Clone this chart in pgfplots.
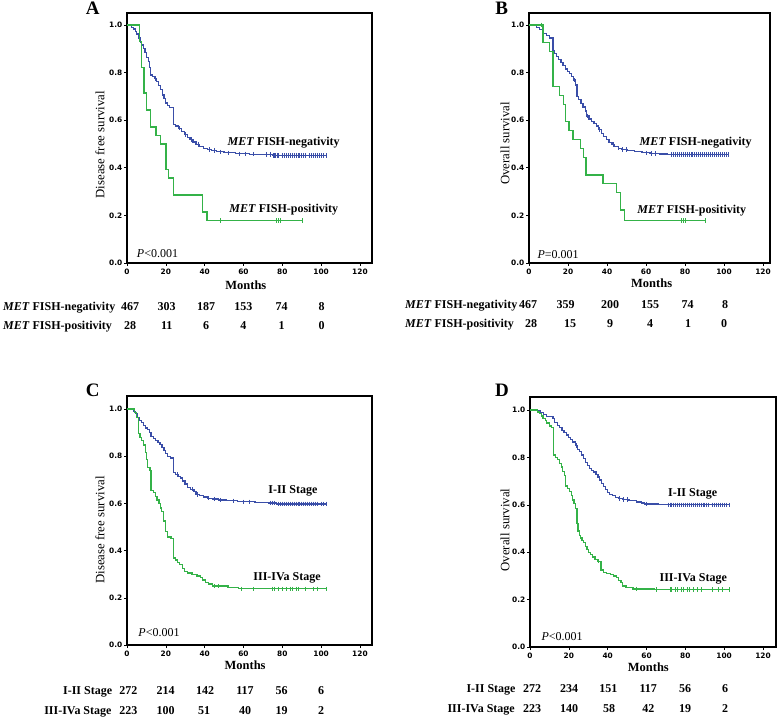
\documentclass[border=0pt]{standalone}
\usepackage{fontspec}
\setmainfont{Liberation Serif}
\newfontfamily\tickfont{DejaVu Sans}
\usepackage{pgfplots}
\pgfplotsset{compat=1.18}
\definecolor{kmblue}{RGB}{58,78,168}
\definecolor{kmgreen}{RGB}{52,178,72}
\pgfplotsset{
  kmaxis/.style={
    scale only axis, ymin=0, xmin=0,
    xtick={0,20,40,60,80,100,120},
    ytick={0,0.2,0.4,0.6,0.8,1.0},
    tick pos=left, tick align=outside, major tick length=3pt,
    tick style={black, line width=0.6pt},
    axis line style={line width=1.6pt},
    tick label style={font=\tickfont\bfseries\fontsize{7.4}{8}\selectfont},
    /pgf/number format/assume math mode=true,
    yticklabel style={inner sep=1.5pt, /pgf/number format/.cd, fixed, fixed zerofill, precision=1},
    xticklabel style={inner sep=2.5pt, /pgf/number format/.cd, fixed, precision=0},
    xlabel style={font=\fontsize{12.5}{14}\selectfont\bfseries, anchor=center},
    ylabel style={font=\fontsize{12.8}{14}\selectfont, anchor=center, rotate=0},
    clip mode=individual,
  },
  kmline/.style={const plot, no marks, line width=1.3pt},
  cens/.style={only marks, mark=|, mark size=2.2pt, mark options={line width=0.6pt}},
}
\newcommand{\lab}{\fontsize{12}{14}\selectfont\bfseries}
\begin{document}
\begin{tikzpicture}[x=1pt,y=1pt]
\path[use as bounding box] (0,0) rectangle (778,718);

% ================= A =================
\begin{axis}[kmaxis, at={(127pt,455pt)}, anchor=south west,
  width=245pt, height=250pt, xmax=126.2, ymax=1.05,
  xlabel={Months}, xlabel style={at={(axis description cs:0.485,-0.0908)}},
  ylabel={Disease free survival}, ylabel style={at={(axis description cs:-0.110,0.473)}}]
\addplot[kmline, kmblue] coordinates {
(0,1.0)(2.4,0.989)(3.5,0.983)(4.2,0.972)(5.0,0.962)(6.0,0.945)(6.8,0.925)(7.6,0.915)(8.4,0.900)(9.3,0.885)(10.2,0.862)(11.0,0.845)(11.6,0.822)(12.1,0.790)(13.2,0.782)(14.2,0.775)(15.3,0.762)(16.3,0.745)(17.2,0.728)(18.2,0.705)(19.0,0.690)(19.8,0.672)(20.8,0.662)(22.0,0.652)(23.9,0.583)(25.0,0.575)(26.5,0.566)(28.0,0.553)(29.5,0.540)(31.0,0.528)(32.5,0.518)(34.0,0.508)(35.5,0.498)(37.5,0.490)(39.5,0.482)(41.5,0.476)(43.5,0.472)(46.0,0.467)(50.0,0.463)(56.0,0.459)(63.0,0.457)(70.0,0.455)(75.0,0.452)(102.8,0.452)};
\addplot[cens, kmblue] coordinates {
(14.6,0.775)(26.8,0.566)(30,0.540)(33,0.518)(36.5,0.498)(42.5,0.476)(45,0.472)(48,0.467)(52,0.463)(58,0.459)(61,0.459)(65,0.457)(72,0.455)(74,0.455)(75.5,0.452)(76,0.452)(76.6,0.452)(77.2,0.452)(78,0.452)(80,0.452)(81,0.452)(82,0.452)(83,0.452)(84,0.452)(85,0.452)(86,0.452)(87,0.452)(88,0.452)(89,0.452)(90,0.452)(91,0.452)(92,0.452)(94,0.452)(95,0.452)(96,0.452)(97,0.452)(98,0.452)(99,0.452)(100,0.452)(101,0.452)(102.8,0.452)};
\addplot[kmline, kmgreen] coordinates {
(0,1.0)(6.4,0.929)(7.6,0.821)(8.8,0.714)(10.1,0.643)(12.2,0.571)(14.9,0.536)(17.3,0.500)(20.1,0.393)(21.3,0.357)(23.9,0.286)(38.8,0.214)(41.2,0.179)(90.5,0.179)};
\addplot[cens, kmgreen] coordinates {(48,0.179)(77,0.179)(78,0.179)(79,0.179)(90.5,0.179)};
\node[anchor=east, font=\lab] at (axis cs:111.4,0.506) {\textit{MET} FISH-negativity};
\node[anchor=east, font=\lab] at (axis cs:110.6,0.223) {\textit{MET} FISH-positivity};
\node[anchor=west, font=\fontsize{12}{14}\selectfont] at (axis cs:3.3,0.041) {\textit{P}<0.001};
\end{axis}

% ================= B =================
\begin{axis}[kmaxis, at={(529pt,455pt)}, anchor=south west,
  width=241pt, height=250pt, xmax=123.6, ymax=1.05,
  xlabel={Months}, xlabel style={at={(axis description cs:0.509,-0.081)}},
  ylabel={Overall survival}, ylabel style={at={(axis description cs:-0.0996,0.479)}}]
\addplot[kmline, kmblue] coordinates {
(0,1.0)(3.8,0.990)(5.5,0.980)(7.2,0.965)(8.9,0.955)(10.6,0.945)(12.3,0.890)(13.2,0.880)(14.2,0.868)(15.3,0.855)(16.4,0.842)(17.5,0.830)(18.6,0.815)(19.7,0.805)(20.9,0.795)(21.8,0.782)(22.8,0.768)(23.8,0.748)(24.6,0.700)(25.5,0.688)(26.6,0.670)(27.7,0.655)(28.8,0.638)(29.6,0.618)(30.8,0.605)(32.0,0.595)(33.3,0.585)(34.6,0.575)(35.8,0.560)(37.0,0.545)(38.3,0.530)(39.6,0.518)(41.0,0.505)(42.5,0.497)(44.0,0.490)(45.8,0.482)(47.5,0.477)(50.5,0.472)(54.0,0.468)(58.0,0.463)(62.0,0.460)(67.0,0.458)(71.0,0.455)(102.3,0.455)};
\addplot[cens, kmblue] coordinates {
(23,0.768)(30,0.618)(36,0.560)(43,0.497)(46,0.482)(48,0.477)(50,0.477)(60,0.463)(62.5,0.460)(65,0.460)(73,0.455)(74,0.455)(75,0.455)(76,0.455)(77,0.455)(78,0.455)(79,0.455)(80,0.455)(81,0.455)(82,0.455)(83,0.455)(84,0.455)(85,0.455)(86,0.455)(87,0.455)(88,0.455)(89,0.455)(90,0.455)(91,0.455)(92,0.455)(93,0.455)(94,0.455)(95,0.455)(96,0.455)(97,0.455)(98,0.455)(99,0.455)(100,0.455)(101,0.455)(102.3,0.455)};
\addplot[kmline, kmgreen] coordinates {
(0,1.0)(7.2,0.926)(10.6,0.889)(12.3,0.741)(15.7,0.704)(17.8,0.667)(18.6,0.593)(20.5,0.556)(22.6,0.519)(26.3,0.481)(28.0,0.444)(29.2,0.370)(38.0,0.333)(45.0,0.296)(46.8,0.222)(49.0,0.178)(90.5,0.178)};
\addplot[cens, kmgreen] coordinates {(6.2,1.0)(78,0.178)(79,0.178)(80,0.178)(90.5,0.178)};
\node[anchor=east, font=\lab] at (axis cs:116.0,0.507) {\textit{MET} FISH-negativity};
\node[anchor=east, font=\lab] at (axis cs:113.2,0.221) {\textit{MET} FISH-positivity};
\node[anchor=west, font=\fontsize{12}{14}\selectfont] at (axis cs:2.6,0.035) {\textit{P}=0.001};
\end{axis}

% ================= C =================
\begin{axis}[kmaxis, at={(127pt,73pt)}, anchor=south west,
  width=245pt, height=249pt, xmax=126.2, ymax=1.055,
  xlabel={Months}, xlabel style={at={(axis description cs:0.482,-0.080)}},
  ylabel={Disease free survival}, ylabel style={at={(axis description cs:-0.110,0.462)}}]
\addplot[kmline, kmblue] coordinates {
(0,1.0)(3.3,0.990)(4.5,0.980)(5.5,0.965)(6.5,0.952)(7.5,0.942)(8.5,0.930)(9.5,0.920)(10.5,0.912)(11.5,0.900)(12.4,0.883)(13.5,0.875)(14.8,0.866)(16.0,0.858)(17.0,0.850)(18.0,0.836)(19.0,0.825)(20.0,0.812)(21.0,0.800)(22.3,0.792)(23.9,0.730)(25.0,0.722)(26.3,0.715)(27.5,0.708)(28.7,0.695)(29.8,0.682)(31.0,0.668)(32.7,0.660)(34.5,0.650)(35.5,0.638)(37.5,0.632)(39.5,0.627)(41.5,0.622)(44.0,0.618)(47.0,0.614)(51.0,0.611)(57.0,0.607)(66.0,0.604)(73.0,0.602)(77.0,0.598)(102.8,0.598)};
\addplot[cens, kmblue] coordinates {
(26,0.722)(33.5,0.660)(36,0.638)(42,0.622)(45,0.618)(48,0.614)(55,0.611)(60,0.607)(63,0.607)(74,0.602)(75,0.602)(76,0.602)(78,0.598)(79,0.598)(80,0.598)(81,0.598)(82,0.598)(83,0.598)(84,0.598)(85,0.598)(86,0.598)(87,0.598)(88,0.598)(89,0.598)(90,0.598)(91,0.598)(92,0.598)(93,0.598)(94,0.598)(95,0.598)(96,0.598)(97,0.598)(98,0.598)(100,0.598)(101,0.598)(102.8,0.598)};
\addplot[kmline, kmgreen] coordinates {
(0,1.0)(4.0,0.985)(5.0,0.965)(5.8,0.895)(6.7,0.880)(7.6,0.865)(8.4,0.848)(9.4,0.815)(9.9,0.785)(10.5,0.752)(11.8,0.740)(12.4,0.655)(13.6,0.645)(14.8,0.630)(15.5,0.615)(16.5,0.600)(17.4,0.580)(17.9,0.565)(18.7,0.525)(19.9,0.480)(21.0,0.458)(22.6,0.450)(23.9,0.368)(25.0,0.360)(26.0,0.350)(27.0,0.340)(28.5,0.325)(29.5,0.312)(31.0,0.305)(33.5,0.300)(36.0,0.292)(37.8,0.285)(39.0,0.275)(40.5,0.265)(42.0,0.258)(44.0,0.250)(52.0,0.245)(57.5,0.238)(102.8,0.238)};
\addplot[cens, kmgreen] coordinates {
(45,0.250)(47,0.250)(59,0.238)(65,0.238)(75,0.238)(76,0.238)(78,0.238)(80,0.238)(82,0.238)(84,0.238)(85,0.238)(87,0.238)(88,0.238)(92,0.238)(96,0.238)(98,0.238)(102.8,0.238)};
\node[anchor=east, font=\lab] at (axis cs:99.9,0.653) {I-II Stage};
\node[anchor=east, font=\lab] at (axis cs:101.6,0.285) {III-IVa Stage};
\node[anchor=west, font=\fontsize{12}{14}\selectfont] at (axis cs:4.1,0.054) {\textit{P}<0.001};
\end{axis}

% ================= D =================
\begin{axis}[kmaxis, at={(530pt,71pt)}, anchor=south west,
  width=246pt, height=250pt, xmax=126.7, ymax=1.055,
  xlabel={Months}, xlabel style={at={(axis description cs:0.481,-0.079)}},
  ylabel={Overall survival}, ylabel style={at={(axis description cs:-0.102,0.468)}}]
\addplot[kmline, kmblue] coordinates {
(0,1.0)(4.0,0.997)(5.5,0.990)(7.0,0.980)(8.5,0.972)(11.8,0.965)(12.7,0.948)(14.0,0.935)(15.3,0.925)(16.5,0.915)(17.5,0.905)(18.7,0.895)(19.8,0.885)(20.9,0.875)(22.0,0.865)(23.4,0.850)(24.3,0.832)(25.5,0.825)(26.5,0.810)(27.5,0.795)(28.5,0.780)(29.5,0.765)(30.5,0.752)(31.5,0.745)(32.8,0.738)(34.0,0.728)(35.0,0.718)(35.8,0.705)(36.8,0.690)(37.8,0.678)(38.8,0.665)(39.8,0.652)(41.0,0.645)(42.5,0.638)(44.0,0.632)(45.5,0.627)(47.5,0.622)(51.0,0.617)(55.0,0.612)(57.5,0.608)(59.0,0.603)(66.0,0.602)(70.0,0.600)(102.5,0.600)};
\addplot[cens, kmblue] coordinates {
(24,0.850)(46,0.627)(48,0.622)(50,0.622)(60,0.603)(71,0.600)(72,0.600)(73,0.600)(74,0.600)(75,0.600)(76,0.600)(77,0.600)(78,0.600)(79,0.600)(80,0.600)(81,0.600)(82,0.600)(83,0.600)(84,0.600)(85,0.600)(86,0.600)(87,0.600)(88,0.600)(89,0.600)(90,0.600)(91,0.600)(92,0.600)(94,0.600)(95,0.600)(96,0.600)(97,0.600)(98,0.600)(99,0.600)(100,0.600)(101,0.600)(102.5,0.600)};
\addplot[kmline, kmgreen] coordinates {
(0,1.0)(4.0,0.992)(5.0,0.985)(5.8,0.975)(6.7,0.965)(7.8,0.955)(8.6,0.945)(10.0,0.932)(11.0,0.925)(12.2,0.810)(13.3,0.800)(14.2,0.790)(15.2,0.775)(16.2,0.760)(16.8,0.740)(17.6,0.725)(18.2,0.680)(19.3,0.670)(20.5,0.655)(21.3,0.640)(22.0,0.620)(22.6,0.605)(23.3,0.585)(24.2,0.520)(24.7,0.490)(25.4,0.470)(25.9,0.460)(26.8,0.450)(27.6,0.440)(28.5,0.425)(29.3,0.412)(30.2,0.400)(31.2,0.390)(32.3,0.380)(33.5,0.370)(35.0,0.362)(36.6,0.325)(37.8,0.315)(39.5,0.310)(41.5,0.305)(43.0,0.300)(44.5,0.292)(45.5,0.282)(46.8,0.272)(47.8,0.258)(49.5,0.252)(53.0,0.245)(64.0,0.242)(102.5,0.242)};
\addplot[cens, kmgreen] coordinates {
(35,0.362)(55,0.245)(65,0.242)(72,0.242)(73,0.242)(75,0.242)(76,0.242)(78,0.242)(79,0.242)(81,0.242)(82,0.242)(84,0.242)(86,0.242)(88,0.242)(94,0.242)(97,0.242)(99,0.242)(102.5,0.242)};
\node[anchor=east, font=\lab] at (axis cs:98.2,0.645) {I-II Stage};
\node[anchor=east, font=\lab] at (axis cs:103.2,0.289) {III-IVa Stage};
\node[anchor=west, font=\fontsize{12}{14}\selectfont] at (axis cs:4.1,0.046) {\textit{P}<0.001};
\end{axis}

% ================= panel letters =================
\begin{scope}[every node/.style={font=\fontsize{19}{21}\selectfont\bfseries, anchor=base, inner sep=0pt}]
\node at (92.7,703.5) {A};
\node at (501.7,703.5) {B};
\node at (92.7,322) {C};
\node at (502,322) {D};
\end{scope}

% ================= risk tables =================
\begin{scope}[every node/.style={font=\lab, anchor=base, inner sep=1pt}]
% A
\node[anchor=base west] at (2,407) {\textit{MET} FISH-negativity};
\node[anchor=base west] at (2,388) {\textit{MET} FISH-positivity};
\node at (130,407) {467}; \node at (166.7,407) {303}; \node at (206,407) {187}; \node at (243.3,407) {153}; \node at (281.7,407) {74}; \node at (321.7,407) {8};
\node at (130,388) {28}; \node at (166.7,388) {11}; \node at (206,388) {6}; \node at (243.3,388) {4}; \node at (281.7,388) {1}; \node at (321.7,388) {0};
% B
\node[anchor=base west] at (404,409.7) {\textit{MET} FISH-negativity};
\node[anchor=base west] at (404,390.3) {\textit{MET} FISH-positivity};
\node at (528,409.7) {467}; \node at (565.7,409.7) {359}; \node at (610,409.7) {200}; \node at (650,409.7) {155}; \node at (687.7,409.7) {74}; \node at (725,409.7) {8};
\node at (531,390.3) {28}; \node at (570,390.3) {15}; \node at (610,390.3) {9}; \node at (650,390.3) {4}; \node at (688,390.3) {1}; \node at (724,390.3) {0};
% C
\node[anchor=base east] at (113.3,23.7) {I-II Stage};
\node[anchor=base east] at (112.7,3.7) {III-IVa Stage};
\node at (128.3,23.7) {272}; \node at (165.7,23.7) {214}; \node at (205,23.7) {142}; \node at (245,23.7) {117}; \node at (281.7,23.7) {56}; \node at (321,23.7) {6};
\node at (128.3,3.7) {223}; \node at (165.7,3.7) {100}; \node at (204,3.7) {51}; \node at (245,3.7) {40}; \node at (281.7,3.7) {19}; \node at (321,3.7) {2};
% D
\node[anchor=base east] at (516.7,25.3) {I-II Stage};
\node[anchor=base east] at (516,5.7) {III-IVa Stage};
\node at (532,25.3) {272}; \node at (569,25.3) {234}; \node at (608.3,25.3) {151}; \node at (648.3,25.3) {117}; \node at (685,25.3) {56}; \node at (725,25.3) {6};
\node at (532,5.7) {223}; \node at (569,5.7) {140}; \node at (609,5.7) {58}; \node at (648.3,5.7) {42}; \node at (685,5.7) {19}; \node at (725,5.7) {2};
\end{scope}
\end{tikzpicture}
\end{document}
